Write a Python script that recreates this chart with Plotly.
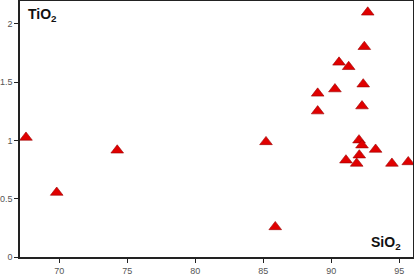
import plotly.graph_objects as go

sio2 = [67.55, 69.81, 74.26, 85.20, 85.88, 89.0, 89.0, 90.27, 90.57, 91.28, 92.68,
        92.43, 92.35, 92.26, 92.04, 92.26, 92.06, 91.08, 91.87, 93.26, 94.46, 95.66]
tio2 = [1.025, 0.553, 0.915, 0.987, 0.258, 1.403, 1.251, 1.44, 1.669, 1.631, 2.098,
        1.803, 1.482, 1.294, 1.002, 0.959, 0.873, 0.83, 0.802, 0.922, 0.802, 0.815]
x_ticks = [70, 75, 80, 85, 90, 95]
y_ticks = [0, 0.5, 1, 1.5, 2]
y_tick_text = ["0", "0.5", "1", "1.5", "2"]

fig = go.Figure()
fig.add_trace(go.Scatter(
    x=sio2, y=tio2, mode="markers",
    marker=dict(symbol="triangle-up", size=11, color="#e00000",
                line=dict(color="#9a0000", width=0.6)),
    hoverinfo="x+y", showlegend=False))

axis_common = dict(showgrid=False, zeroline=False, showline=True, linecolor="#222",
                   linewidth=1.5, mirror=True, ticks="outside", ticklen=4,
                   tickcolor="#222", tickwidth=1, automargin=False,
                   tickfont=dict(family="Liberation Sans, Arial", size=9, color="#555"))
fig.update_xaxes(range=[67.11, 96.01], tickvals=x_ticks, **axis_common)
fig.update_yaxes(range=[0, 2.195], tickvals=y_ticks, ticktext=y_tick_text, **axis_common)

fig.add_annotation(text="<b>TiO<sub>2</sub></b>", xref="paper", yref="paper",
                   x=0.014, y=0.988, xanchor="left", yanchor="top", showarrow=False,
                   font=dict(family="Liberation Sans, Arial", size=14, color="#111"))
fig.add_annotation(text="<b>SiO<sub>2</sub></b>", xref="paper", yref="paper",
                   x=0.974, y=0.01, xanchor="right", yanchor="bottom", showarrow=False,
                   font=dict(family="Liberation Sans, Arial", size=14, color="#111"))

fig.update_layout(width=414, height=274, margin=dict(l=20, r=1, t=1, b=17),
                  plot_bgcolor="white", paper_bgcolor="white")
fig.write_html("out.html", config={"displayModeBar": False},
               post_script="document.body.style.margin='0';")
